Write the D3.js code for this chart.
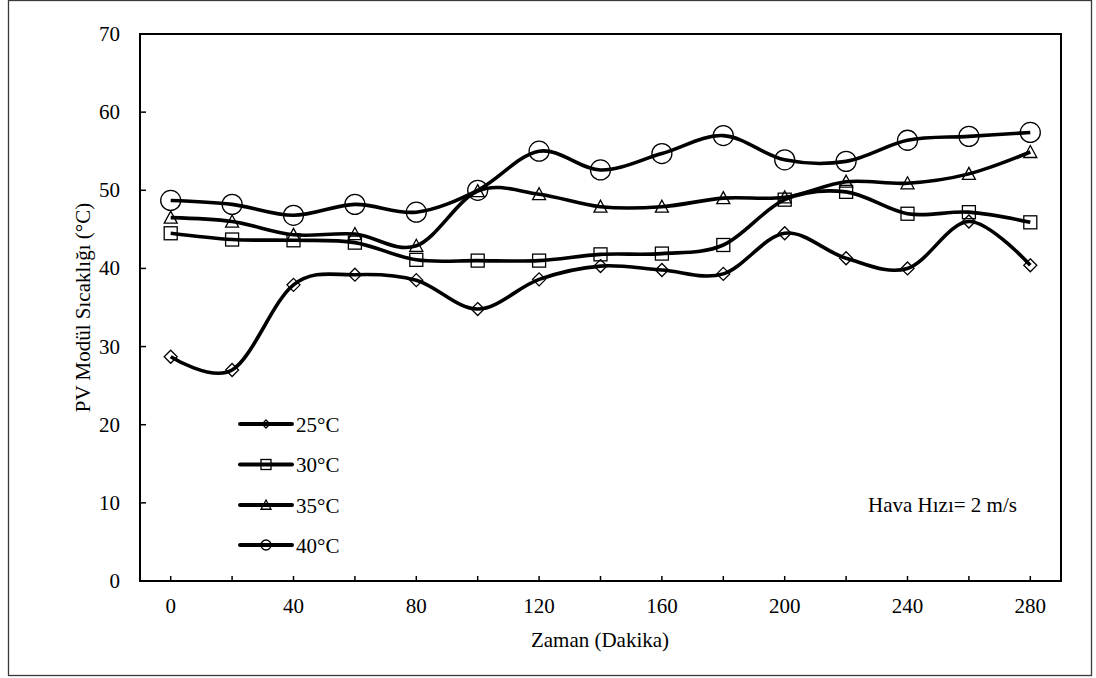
<!DOCTYPE html>
<html>
<head>
<meta charset="utf-8">
<script src="https://cdn.jsdelivr.net/npm/d3@7"></script>
<style>
  html, body { margin: 0; padding: 0; background: #fff; }
  svg { display: block; }
  text { font-family: "Liberation Serif", "Times New Roman", serif; fill: #000; }
</style>
</head>
<body>
<svg id="chart" width="1096" height="678"></svg>
<script>
const times = [0, 20, 40, 60, 80, 100, 120, 140, 160, 180, 200, 220, 240, 260, 280];
const t25 = [28.7, 27.0, 37.9, 39.2, 38.5, 34.8, 38.6, 40.3, 39.8, 39.3, 44.5, 41.3, 40.0, 46.0, 40.4];
const t30 = [44.5, 43.7, 43.6, 43.3, 41.1, 41.0, 41.0, 41.8, 41.9, 43.0, 48.8, 49.8, 47.0, 47.2, 45.9];
const t35 = [46.5, 46.0, 44.3, 44.4, 42.9, 49.9, 49.5, 47.9, 47.9, 49.0, 49.1, 51.1, 50.9, 52.1, 54.9];
const t40 = [48.7, 48.2, 46.8, 48.2, 47.2, 50.0, 55.0, 52.6, 54.7, 57.0, 53.9, 53.7, 56.4, 56.9, 57.4];
const seriesNames = ["25°C", "30°C", "35°C", "40°C"];
const seriesMarkers = ["diamond", "square", "triangle", "circle"];
const xTickValues = [0, 40, 80, 120, 160, 200, 240, 280];
const xMinorTicks = [0, 20, 40, 60, 80, 100, 120, 140, 160, 180, 200, 220, 240, 260, 280];
const yTickValues = [0, 10, 20, 30, 40, 50, 60, 70];
const xTitle = "Zaman (Dakika)";
const yTitle = "PV Modül Sıcaklığı (°C)";
const note = "Hava Hızı= 2 m/s";

const allSeries = [t25, t30, t35, t40];
const svg = d3.select("#chart");
const FS = 21;

// outer border
svg.append("rect").attr("x", 8.5).attr("y", 0.5).attr("width", 1083).attr("height", 675)
  .attr("fill", "none").attr("stroke", "#3a3a3a").attr("stroke-width", 1.3);

const L = 140, R = 1061, T = 34, B = 581;
const x = d3.scaleLinear().domain([-10, 290]).range([L, R]);
const y = d3.scaleLinear().domain([0, 70]).range([B, T]);

// frame
svg.append("rect").attr("x", L).attr("y", T).attr("width", R - L).attr("height", B - T)
  .attr("fill", "none").attr("stroke", "#000").attr("stroke-width", 2);

// ticks (inward)
svg.append("g").selectAll("line").data(xMinorTicks).join("line")
  .attr("x1", d => x(d)).attr("x2", d => x(d)).attr("y1", B).attr("y2", B - 5)
  .attr("stroke", "#000").attr("stroke-width", 1.5);
svg.append("g").selectAll("line").data(yTickValues).join("line")
  .attr("x1", L).attr("x2", L + 6).attr("y1", d => y(d)).attr("y2", d => y(d))
  .attr("stroke", "#000").attr("stroke-width", 1.5);

// tick labels
svg.append("g").selectAll("text").data(xTickValues).join("text")
  .attr("x", d => x(d)).attr("y", 613).attr("text-anchor", "middle")
  .attr("font-size", FS).text(d => d);
svg.append("g").selectAll("text").data(yTickValues).join("text")
  .attr("x", 120).attr("y", d => y(d) + 7).attr("text-anchor", "end")
  .attr("font-size", FS).text(d => d);

// titles
svg.append("text").attr("x", 600).attr("y", 647).attr("text-anchor", "middle")
  .attr("font-size", FS).text(xTitle);
svg.append("text").attr("transform", "translate(90,307.5) rotate(-90)")
  .attr("text-anchor", "middle").attr("font-size", FS).text(yTitle);
svg.append("text").attr("x", 868).attr("y", 512).attr("font-size", FS).text(note);

// lines
const line = d3.line().x((d, i) => x(times[i])).y(d => y(d)).curve(d3.curveCardinal.tension(0));

function marker(g, type, cx, cy, s) {
  let el;
  if (type === "diamond") {
    el = g.append("path").attr("d", `M${cx},${cy - s}L${cx + s},${cy}L${cx},${cy + s}L${cx - s},${cy}Z`);
  } else if (type === "square") {
    el = g.append("rect").attr("x", cx - s).attr("y", cy - s).attr("width", 2 * s).attr("height", 2 * s);
  } else if (type === "triangle") {
    el = g.append("path").attr("d", `M${cx},${cy - s}L${cx + s},${cy + s * 0.85}L${cx - s},${cy + s * 0.85}Z`);
  } else {
    el = g.append("circle").attr("cx", cx).attr("cy", cy).attr("r", s);
  }
  el.attr("fill", "none").attr("stroke", "#000").attr("stroke-width", 1.3);
}
const plotSizes = { diamond: 6.5, square: 6.5, triangle: 6.5, circle: 10 };
const legSizes = { diamond: 4, square: 5, triangle: 5, circle: 5 };

allSeries.forEach((vals, si) => {
  svg.append("path").attr("d", line(vals)).attr("fill", "none")
    .attr("stroke", "#000").attr("stroke-width", 3.6);
  const g = svg.append("g");
  vals.forEach((v, i) => marker(g, seriesMarkers[si], x(times[i]), y(v), plotSizes[seriesMarkers[si]]));
});

// legend
const legRows = [424, 464.5, 505, 545];
seriesNames.forEach((name, i) => {
  const g = svg.append("g");
  g.append("line").attr("x1", 240).attr("x2", 292).attr("y1", legRows[i]).attr("y2", legRows[i])
    .attr("stroke", "#000").attr("stroke-width", 4).attr("stroke-linecap", "round");
  marker(g, seriesMarkers[i], 266, legRows[i], legSizes[seriesMarkers[i]]);
  g.append("text").attr("x", 296).attr("y", legRows[i] + 7.5).attr("font-size", FS).text(name);
});
</script>
</body>
</html>
